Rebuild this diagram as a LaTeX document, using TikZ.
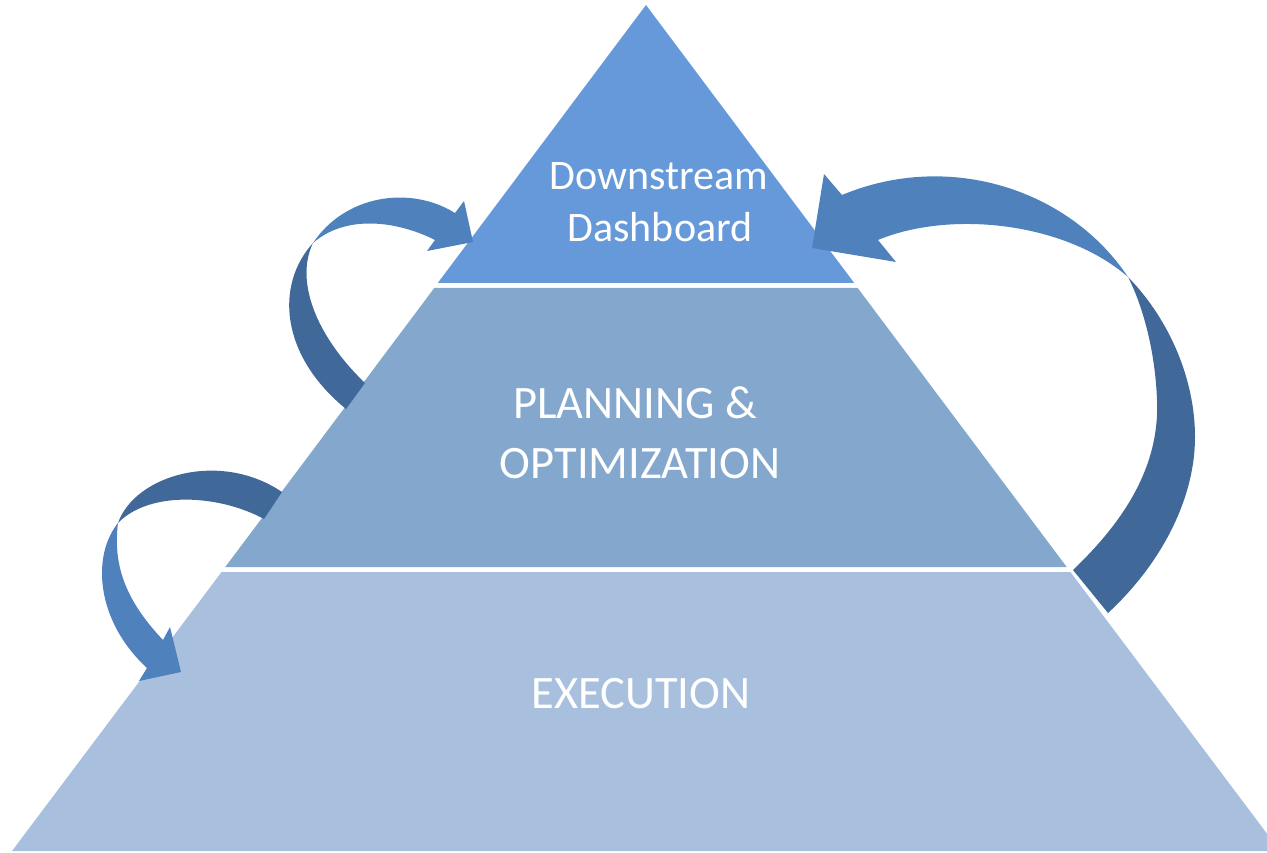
\documentclass[tikz,border=0pt]{standalone}
\usepackage{fontspec}
\setmainfont{Carlito}
\definecolor{bandtop}{RGB}{102,153,217}
\definecolor{bandmid}{RGB}{132,167,206}
\definecolor{bandbot}{RGB}{168,192,222}
\definecolor{arrlight}{RGB}{79,129,189}
\definecolor{arrdark}{RGB}{64,104,153}
\begin{document}
\begin{tikzpicture}[x=1pt,y=-1pt,
  label/.style={text=white,anchor=base,inner sep=0pt},
  big/.style={font=\fontsize{46.5}{55}\selectfont},
  small/.style={font=\fontsize{42}{50}\selectfont}]
\useasboundingbox (0,0) rectangle (1267,853);
\begin{scope}
\clip (0,0) rectangle (1267,853);
% pyramid bands
\fill[bandtop] (646,5) -- (854.2,283) -- (437.8,283) -- cycle;
\fill[bandmid] (434.3,288) -- (857.7,288) -- (1066.7,567) -- (225.3,567) -- cycle;
\fill[bandbot] (221.6,572) -- (1070.4,572) -- (1280,851) -- (12,851) -- cycle;
\end{scope}
% arrow 1 (middle -> top, left)
\fill[arrdark] (313,243) .. controls (275,285) and (280,355) .. (346,409)
  -- (365,383) .. controls (315,335) and (295,280) .. (313,243) -- cycle;
\fill[arrlight] (313,243) .. controls (345,195) and (410,185) .. (455,213)
  -- (464,201) -- (473,242) -- (427,251) -- (435,240)
  .. controls (395,220) and (345,215) .. (313,243) -- cycle;
% arrow 2 (middle -> bottom, left)
\fill[arrdark] (118,523) .. controls (135,475) and (220,450) .. (282,492)
  -- (264,519) .. controls (220,495) and (150,490) .. (118,523) -- cycle;
\fill[arrlight] (118,523) .. controls (92,555) and (95,620) .. (147,668)
  -- (139,681) -- (181,672) -- (170,627) -- (163,640)
  .. controls (130,605) and (112,570) .. (118,523) -- cycle;
% arrow 3 (bottom -> top, right)
\fill[arrdark] (1128,277) .. controls (1170,320) and (1195,380) .. (1195,437)
  .. controls (1195,500) and (1160,565) .. (1108,613)
  -- (1073,570) .. controls (1120,525) and (1160,470) .. (1157,400)
  .. controls (1155,345) and (1140,300) .. (1128,277) -- cycle;
\fill[arrlight] (842,195) -- (824,174) -- (812,248) -- (896,262) -- (878,240)
  .. controls (950,210) and (1065,222) .. (1128,277)
  .. controls (1070,190) and (950,150) .. (842,195) -- cycle;
% labels
\node[label,small] (ds1) at (659,190) {Downstream};
\node[label,small] (ds2) at (660,242) {Dashboard};
\node[label,big] (pl1) at (635,418) {PLANNING \&};
\node[label,big] (pl2) at (640,478) {OPTIMIZATION};
\node[label,big] (ex) at (641,708) {EXECUTION};
\end{tikzpicture}
\end{document}
